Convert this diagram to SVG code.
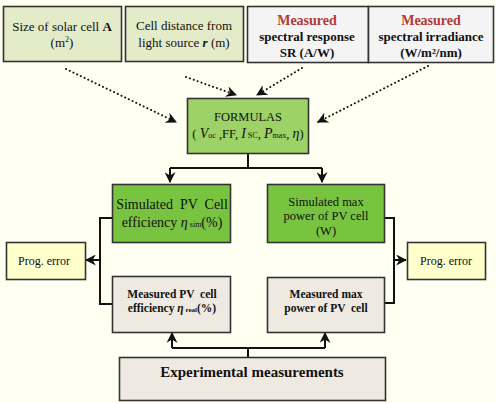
<svg xmlns="http://www.w3.org/2000/svg" width="496" height="403" viewBox="0 0 496 403">
<defs>
<style>
.bx{stroke:#333;stroke-width:1.6}
.t{font-family:"Liberation Serif",serif;fill:#111;text-anchor:middle}
.b{font-weight:bold}
.red{fill:#B03A3A}
.dot{fill:none;stroke:#111;stroke-width:2;stroke-dasharray:0.1 4;stroke-linecap:round}
.ln{fill:none;stroke:#111;stroke-width:2}
</style>
<marker id="ah" viewBox="0 0 10 10" refX="9" refY="5" markerWidth="5" markerHeight="5" orient="auto" markerUnits="userSpaceOnUse">
<path d="M0,0 L10,5 L0,10 L3,5 Z" fill="#111"/>
</marker>
<marker id="ah2" viewBox="0 0 10 10" refX="9" refY="5" markerWidth="11" markerHeight="11" orient="auto" markerUnits="userSpaceOnUse">
<path d="M0,0 L10,5 L0,10 L3,5 Z" fill="#111"/>
</marker>
</defs>
<rect width="496" height="403" fill="#FFFFF2"/>

<g id="connectors">
<path class="dot" d="M66,69 L176,122" marker-end="url(#ah2)"/>
<path class="dot" d="M186,77 L236,95" marker-end="url(#ah2)"/>
<path class="dot" d="M302,68 L257,95" marker-end="url(#ah2)"/>
<path class="dot" d="M428,66 L318,122" marker-end="url(#ah2)"/>
<path class="ln" d="M248,153 V168 M170,168 H322 M170,168 V180 M322,168 V180"/>
<path class="ln" d="M170,168 V182" marker-end="url(#ah2)"/>
<path class="ln" d="M322,168 V182" marker-end="url(#ah2)"/>
<path class="ln" d="M112,218 H100 V304 H112"/>
<path class="ln" d="M100,260 H86" marker-end="url(#ah2)"/>
<path class="ln" d="M384,218 H394 V303 H384"/>
<path class="ln" d="M394,260 H406" marker-end="url(#ah2)"/>
<path class="ln" d="M248,357 V348 M172,348 H325"/>
<path class="ln" d="M172,348 V333" marker-end="url(#ah2)"/>
<path class="ln" d="M325,348 V333" marker-end="url(#ah2)"/>
</g>

<g id="node-size">
<rect class="bx" x="3.5" y="6.5" width="118" height="55" fill="#E3EBC9"/>
<text class="t" x="62" y="31" font-size="13">Size of solar cell <tspan class="b">A</tspan></text>
<text class="t" x="62" y="47" font-size="13">(m<tspan font-size="8" dy="-5">2</tspan><tspan dy="5">)</tspan></text>
</g>
<g id="node-distance">
<rect class="bx" x="125.5" y="6.5" width="118" height="55" fill="#E3EBC9"/>
<text class="t" x="184" y="30" font-size="13">Cell distance from</text>
<text class="t" x="184" y="47" font-size="13">light source <tspan class="b" font-style="italic">r</tspan> (m)</text>
</g>
<g id="node-sr">
<rect class="bx" x="247.5" y="6.5" width="121" height="56" fill="#F4F4F4"/>
<text class="t b red" x="307" y="25" font-size="14">Measured</text>
<text class="t b" x="307" y="41" font-size="13">spectral response</text>
<text class="t b" x="307" y="57" font-size="13">SR (A/W)</text>
</g>
<g id="node-irr">
<rect class="bx" x="368.5" y="6.5" width="125" height="56" fill="#F4F4F4"/>
<text class="t b red" x="431" y="25" font-size="14">Measured</text>
<text class="t b" x="431" y="41" font-size="13">spectral irradiance</text>
<text class="t b" x="431" y="57" font-size="13">(W/m²/nm)</text>
</g>
<g id="node-formulas">
<rect class="bx" x="187.5" y="98.5" width="121" height="55" fill="#9CD266"/>
<text class="t" x="248" y="121" font-size="12.5">FORMULAS</text>
<text class="t" x="248" y="138" font-size="12.5">( <tspan font-style="italic" font-size="14">V</tspan><tspan font-size="8">oc</tspan> ,FF, <tspan font-style="italic" font-size="14">I</tspan><tspan font-size="8"> SC</tspan>, <tspan font-style="italic" font-size="14">P</tspan><tspan font-size="8">max</tspan>, <tspan font-style="italic" font-size="14">η</tspan>)</text>
</g>
<g id="node-simeff">
<rect class="bx" x="112.5" y="184.5" width="118" height="58" fill="#78C441"/>
<text class="t" x="172" y="209" font-size="14" xml:space="preserve">Simulated  PV  Cell</text>
<text class="t" x="172" y="227" font-size="14">efficiency <tspan font-style="italic">η</tspan><tspan font-size="8"> sim</tspan>(%)</text>
</g>
<g id="node-simpow">
<rect class="bx" x="267.5" y="184.5" width="117" height="58" fill="#78C441"/>
<text class="t" x="326" y="206" font-size="12.5">Simulated max</text>
<text class="t" x="326" y="220" font-size="12.5">power of PV cell</text>
<text class="t" x="326" y="235" font-size="12.5">(W)</text>
</g>
<g id="node-err-left">
<rect class="bx" x="6.5" y="242.5" width="79" height="37" fill="#FFFFCC"/>
<text class="t" x="44" y="265" font-size="12">Prog. error</text>
</g>
<g id="node-err-right">
<rect class="bx" x="407.5" y="242.5" width="78" height="37" fill="#FFFFCC"/>
<text class="t" x="446" y="265" font-size="12">Prog. error</text>
</g>
<g id="node-measeff">
<rect class="bx" x="112.5" y="276.5" width="118" height="56" fill="#EEEAE2"/>
<text class="t b" x="172" y="298" font-size="11.5" xml:space="preserve">Measured PV  cell</text>
<text class="t b" x="172" y="312" font-size="11.5">efficiency <tspan font-style="italic">η</tspan><tspan font-size="7"> real</tspan>(%)</text>
</g>
<g id="node-measpow">
<rect class="bx" x="267.5" y="277.5" width="117" height="55" fill="#EEEAE2"/>
<text class="t b" x="326" y="298" font-size="11.5">Measured max</text>
<text class="t b" x="326" y="312" font-size="11.5" xml:space="preserve">power of PV  cell</text>
</g>
<g id="node-exp">
<rect class="bx" x="119.5" y="357.5" width="266" height="43" fill="#EEEAE2"/>
<text class="t b" x="252" y="377" font-size="15">Experimental measurements</text>
</g>
</svg>
